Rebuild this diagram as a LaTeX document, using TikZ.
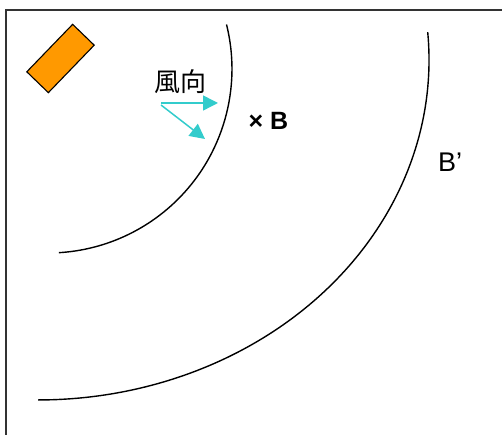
\documentclass[tikz,border=0pt]{standalone}
\usepackage{fontspec}
\setmainfont{Liberation Sans}
\newfontfamily\jpfont{Noto Sans CJK JP}
\usetikzlibrary{arrows.meta}
\definecolor{windcyan}{HTML}{33CCCC}
\definecolor{stackorange}{HTML}{FF9900}
\begin{document}
\begin{tikzpicture}[x=1pt,y=1pt,
        wind/.style={windcyan,line width=1.5pt,-{Triangle[length=15pt,width=15pt]}},
        lbl/.style={inner sep=0,font=\fontsize{#1}{#1}\selectfont},
        contour/.style={line width=1.4pt},
        src/.style={draw,fill=stackorange,line width=1.1pt,minimum width=66pt,minimum height=30pt,inner sep=0,rotate=46}]
    \useasboundingbox (0,0) rectangle (502,435);
    \draw[black!80,line width=1.6pt] (6,0) |- (502,425);
    \node[src] (stack) at (60.5,376.5) {};
    % plume contours B and B'
    \draw[contour] (226.5,410.5) arc[start angle=14,end angle=-86.6,radius=184];
    \draw[contour] (427.7,402.9) arc[start angle=4.7,end angle=-90,x radius=391,y radius=340];
    % wind direction
    \node[lbl=26] (windlbl) at (180.5,353) {\jpfont 風向};
    \coordinate (w0) at (161,332);
    \coordinate (w1) at (218,332);
    \coordinate (w2) at (205,296);
    \draw[wind] (w0) -- (w1);
    \draw[wind] ([yshift=-2pt]w0) -- (w2);
    \node[lbl=25] (ptB) at (268.5,314) {\bfseries × B};
    \node[lbl=27] (ptBp) at (450,273) {B’};
\end{tikzpicture}
\end{document}
